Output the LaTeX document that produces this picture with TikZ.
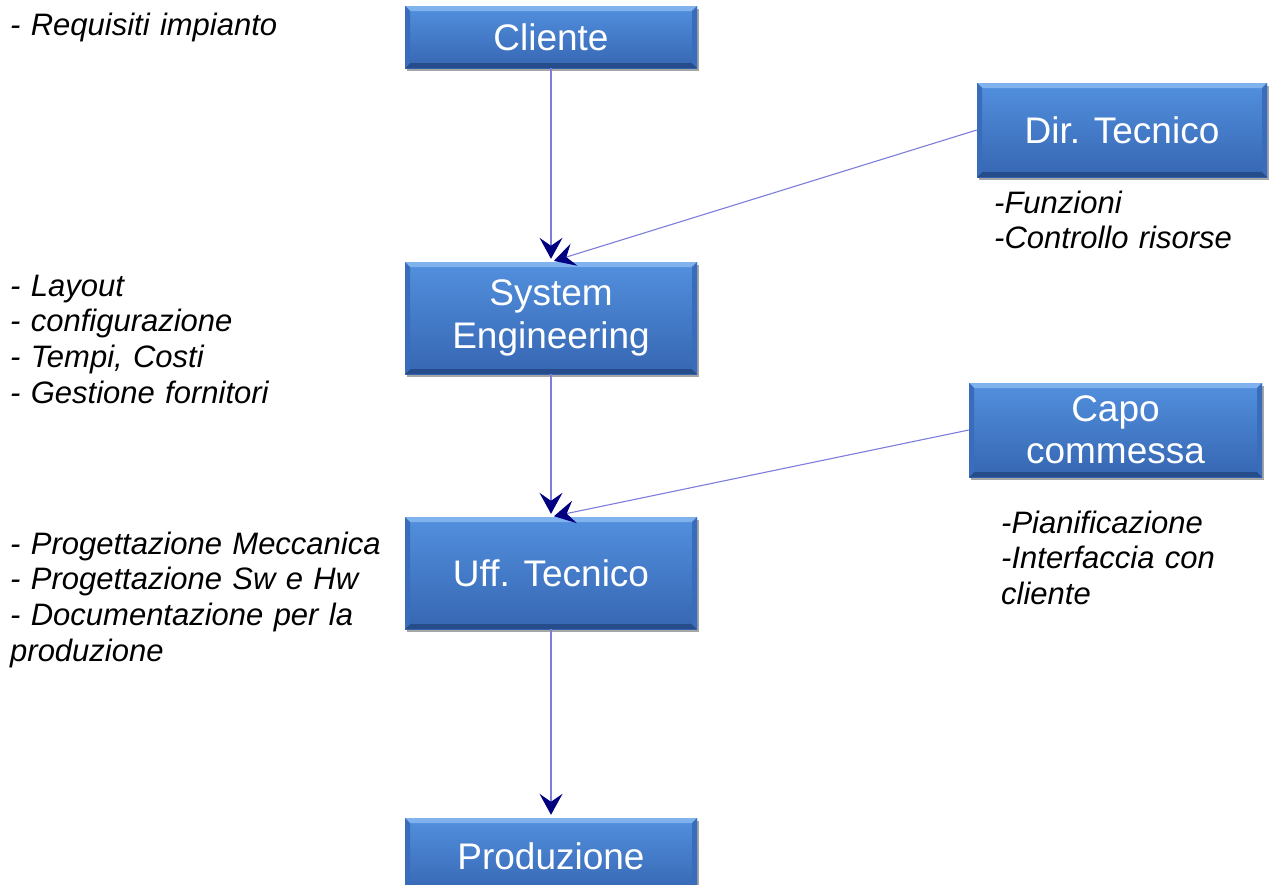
\documentclass[tikz,border=0pt]{standalone}
\usepackage{fontspec}
\setmainfont{Liberation Sans}
\usetikzlibrary{arrows.meta,shadows}
\definecolor{boxtop}{RGB}{82,144,222}
\definecolor{boxbot}{RGB}{54,102,178}
\definecolor{bevtop}{RGB}{128,178,238}
\definecolor{bevbot}{RGB}{38,76,140}
\definecolor{bevside}{RGB}{58,108,188}
\definecolor{linecol}{RGB}{125,125,220}
\definecolor{tipcol}{RGB}{0,0,128}
\tikzset{
  blbox/.style={rectangle, minimum width=292pt, inner sep=0pt, text=white,
    font=\fontsize{37}{42.5}\selectfont, align=center,
    top color=boxtop, bottom color=boxbot,
    drop shadow={shadow xshift=2pt,shadow yshift=-3pt,opacity=0.35,fill=black},
    path picture={
      \fill[bevtop] (path picture bounding box.north west) -- (path picture bounding box.north east)
        -- ([xshift=-5pt,yshift=-5pt]path picture bounding box.north east)
        -- ([xshift=5pt,yshift=-5pt]path picture bounding box.north west) -- cycle;
      \fill[bevbot] (path picture bounding box.south west) -- (path picture bounding box.south east)
        -- ([xshift=-5pt,yshift=5pt]path picture bounding box.south east)
        -- ([xshift=5pt,yshift=5pt]path picture bounding box.south west) -- cycle;
      \fill[bevside] (path picture bounding box.north west) -- ([xshift=5pt,yshift=-5pt]path picture bounding box.north west)
        -- ([xshift=5pt,yshift=5pt]path picture bounding box.south west) -- (path picture bounding box.south west) -- cycle;
      \fill[bevside] (path picture bounding box.north east) -- ([xshift=-5pt,yshift=-5pt]path picture bounding box.north east)
        -- ([xshift=-5pt,yshift=5pt]path picture bounding box.south east) -- (path picture bounding box.south east) -- cycle;
    }},
  lbl/.style={inner sep=0pt, text width=420pt, align=left, anchor=base west,
    font=\fontsize{31}{35.7}\selectfont\itshape},
  conn/.style={draw=linecol, line width=1.1pt,
    -{Stealth[length=21pt,width=23pt,inset=8pt,color=tipcol]}, shorten >=3pt}
}
\begin{document}
\begin{tikzpicture}[x=1pt,y=-1pt]
\useasboundingbox (0,0) rectangle (1269,884);
\node[blbox, minimum height=62pt] (cliente) at (551,37) {Cliente};
\node[blbox, minimum width=290pt, minimum height=94pt] (dir) at (1122,130) {Dir. Tecnico};
\node[blbox, minimum height=112pt] (se) at (551,318) {System\\Engineering};
\node[blbox, minimum width=293pt, minimum height=94pt] (capo) at (1115.5,430) {Capo\\commessa};
\node[blbox, minimum height=112pt] (uff) at (551,573) {Uff. Tecnico};
\node[blbox, minimum height=76pt] (prod) at (551,856) {Produzione};

\draw[conn] (cliente) -- (se.north);
\draw[conn] (dir.west) -- (se.north);
\draw[conn] (se) -- (uff.north);
\draw[conn] (capo.west) -- (uff.north);
\draw[conn] (uff) -- (prod.north);

\node[lbl] (req) at (10,35) {- Requisiti impianto};
\node[lbl] (seL) at (10,296) {- Layout\\- configurazione\\- Tempi, Costi\\- Gestione fornitori};
\node[lbl] (uffL) at (10,554) {- Progettazione Meccanica\\- Progettazione Sw e Hw\\- Documentazione per la\\produzione};
\node[lbl] (dirL) at (994,213) {-Funzioni\\-Controllo risorse};
\node[lbl] (capoL) at (1001,533) {-Pianificazione\\-Interfaccia con\\cliente};
\end{tikzpicture}
\end{document}
